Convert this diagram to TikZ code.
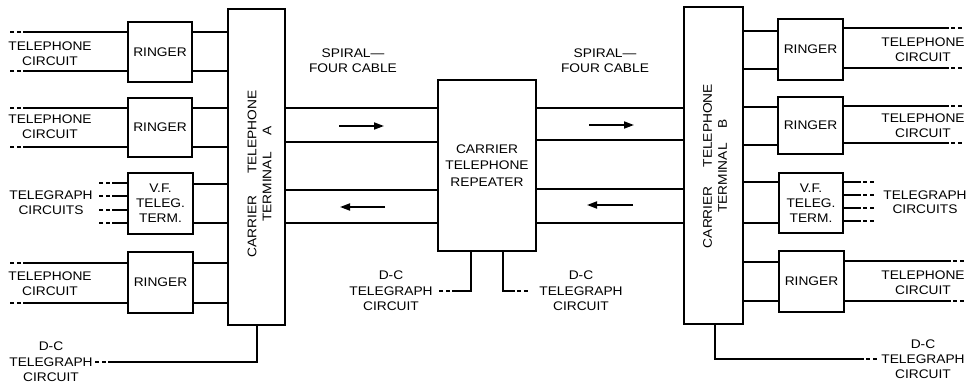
\documentclass[tikz,border=0pt]{standalone}
\usepackage{fontspec}
\setmainfont{Liberation Sans}[FakeStretch=1.1]
\usetikzlibrary{arrows.meta}
\tikzset{
  x=1pt, y=-1pt,
  box/.style={draw, line width=1.2pt, inner sep=0pt, font=\fontsize{12.5}{15}\selectfont, align=center},
  lbl/.style={inner sep=0pt, font=\fontsize{12.5}{15}\selectfont, align=center},
  wire/.style={line width=1.6pt},
  tail/.style={line width=1.6pt, dash pattern=on 0pt off 2pt on 4pt off 3pt on 4pt off 300pt},
  flow/.style={line width=1.8pt, -{Triangle[length=10pt,width=7pt]}},
}
\begin{document}
\begin{tikzpicture}
\useasboundingbox (0,0) rectangle (972,386);
% ---------- boxes ----------
\node[box, minimum width=57, minimum height=316] (termA) at (256.5,167) {};
\node[lbl, rotate=90] (termAtxt) at (259.5,174) {CARRIER\hspace{22pt}TELEPHONE\\TERMINAL\hspace{17pt}A};
\node[box, minimum width=64, minimum height=60] (r1) at (160,52) {RINGER};
\node[box, minimum width=64, minimum height=59] (r2) at (160,127.5) {RINGER};
\node[box, minimum width=65, minimum height=61] (vfA) at (160.5,203.5) {V.F.\\TELEG.\\TERM.};
\node[box, minimum width=65, minimum height=61] (r3) at (160.5,282.5) {RINGER};

\node[box, minimum width=98, minimum height=171, font=\fontsize{12.5}{16.5}\selectfont] (rep) at (487,165.5) {CARRIER\\TELEPHONE\\REPEATER};

\node[box, minimum width=59, minimum height=317] (termB) at (713.5,165.5) {};
\node[lbl, rotate=90] (termBtxt) at (715,166) {CARRIER\hspace{19pt}TELEPHONE\\TERMINAL\hspace{15pt}B};
\node[box, minimum width=65, minimum height=61] (rb1) at (810.5,49.5) {RINGER};
\node[box, minimum width=65, minimum height=57] (rb2) at (810.5,125.5) {RINGER};
\node[box, minimum width=64, minimum height=60] (vfB) at (811,203) {V.F.\\TELEG.\\TERM.};
\node[box, minimum width=65, minimum height=61] (rb4) at (811.5,281.5) {RINGER};

% ---------- labels ----------
\node[lbl] (tcA1) at (50,54) {TELEPHONE\\CIRCUIT};
\node[lbl] (tcA2) at (50,127) {TELEPHONE\\CIRCUIT};
\node[lbl] (tgA) at (51,203) {TELEGRAPH\\CIRCUITS};
\node[lbl] (tcA3) at (50,284) {TELEPHONE\\CIRCUIT};
\node[lbl, font=\fontsize{12.5}{15.5}\selectfont] (dcA) at (51,362) {D-C\\TELEGRAPH\\CIRCUIT};
\node[lbl] (sp1) at (353,60.5) {SPIRAL—\\FOUR CABLE};
\node[lbl] (sp2) at (605,60.5) {SPIRAL—\\FOUR CABLE};
\node[lbl, font=\fontsize{12.5}{15.5}\selectfont] (dcR1) at (391,291) {D-C\\TELEGRAPH\\CIRCUIT};
\node[lbl, font=\fontsize{12.5}{15.5}\selectfont] (dcR2) at (581,291) {D-C\\TELEGRAPH\\CIRCUIT};
\node[lbl] (tcB1) at (923,50) {TELEPHONE\\CIRCUIT};
\node[lbl] (tcB2) at (923,125.5) {TELEPHONE\\CIRCUIT};
\node[lbl, font=\fontsize{12.5}{14}\selectfont] (tgB) at (925,202) {TELEGRAPH\\CIRCUITS};
\node[lbl] (tcB3) at (923,283) {TELEPHONE\\CIRCUIT};
\node[lbl, font=\fontsize{12.5}{15}\selectfont] (dcB) at (923,359) {D-C\\TELEGRAPH\\CIRCUIT};

% ---------- terminal A side ----------
\foreach \y in {32,71} \draw[wire] (r1.east|-0,\y) -- (termA.west|-0,\y);
\foreach \y in {108,147} \draw[wire] (r2.east|-0,\y) -- (termA.west|-0,\y);
\foreach \y in {184,223} \draw[wire] (vfA.east|-0,\y) -- (termA.west|-0,\y);
\foreach \y in {263,303} \draw[wire] (r3.east|-0,\y) -- (termA.west|-0,\y);
\foreach \y in {32,71} {\draw[wire] (r1.west|-0,\y) -- (23,\y); \draw[tail] (23,\y) -- (6,\y);}
\foreach \y in {108,147} {\draw[wire] (r2.west|-0,\y) -- (23,\y); \draw[tail] (23,\y) -- (6,\y);}
\foreach \y in {263,303} {\draw[wire] (r3.west|-0,\y) -- (23,\y); \draw[tail] (23,\y) -- (6,\y);}
\foreach \y in {183,196,210,223} {\draw[wire] (vfA.west|-0,\y) -- (112,\y); \draw[tail] (112,\y) -- (95,\y);}
\coordinate (dcAend) at (108,362);
\draw[wire] (termA.south-|257,0) |- (dcAend);
\draw[tail] (dcAend) -- (92,362);

% ---------- cables ----------
\foreach \y in {108,142,190,223} \draw[wire] (termA.east|-0,\y) -- (rep.west|-0,\y);
\foreach \y in {108,140,189,223} \draw[wire] (rep.east|-0,\y) -- (termB.west|-0,\y);
\coordinate (a1s) at (339,126); \coordinate (a1e) at (384,126);
\coordinate (a2s) at (385,207); \coordinate (a2e) at (340,207);
\coordinate (a3s) at (589,125); \coordinate (a3e) at (634,125);
\coordinate (a4s) at (633,205); \coordinate (a4e) at (587,205);
\draw[flow] (a1s) -- (a1e);
\draw[flow] (a2s) -- (a2e);
\draw[flow] (a3s) -- (a3e);
\draw[flow] (a4s) -- (a4e);

% ---------- repeater D-C ----------
\coordinate (dcR1end) at (452,291);
\coordinate (dcR2end) at (515,291);
\draw[wire] (rep.south-|471,0) |- (dcR1end);
\draw[tail] (dcR1end) -- (435,291);
\draw[wire] (rep.south-|503,0) |- (dcR2end);
\draw[tail] (dcR2end) -- (532,291);

% ---------- terminal B side ----------
\foreach \y in {31,69} \draw[wire] (termB.east|-0,\y) -- (rb1.west|-0,\y);
\foreach \y in {107,145} \draw[wire] (termB.east|-0,\y) -- (rb2.west|-0,\y);
\foreach \y in {182,223} \draw[wire] (termB.east|-0,\y) -- (vfB.west|-0,\y);
\foreach \y in {262,301} \draw[wire] (termB.east|-0,\y) -- (rb4.west|-0,\y);
\foreach \y in {28,68} {\draw[wire] (rb1.east|-0,\y) -- (949,\y); \draw[tail] (949,\y) -- (966,\y);}
\foreach \y in {106,143} {\draw[wire] (rb2.east|-0,\y) -- (949,\y); \draw[tail] (949,\y) -- (966,\y);}
\foreach \y in {261,301} {\draw[wire] (rb4.east|-0,\y) -- (951,\y); \draw[tail] (951,\y) -- (968,\y);}
\foreach \y in {182,195,208,221} {\draw[wire] (vfB.east|-0,\y) -- (861,\y); \draw[tail] (861,\y) -- (878,\y);}
\coordinate (dcBend) at (864,359);
\draw[wire] (termB.south-|715,0) |- (dcBend);
\draw[tail] (dcBend) -- (881,359);
\end{tikzpicture}
\end{document}
